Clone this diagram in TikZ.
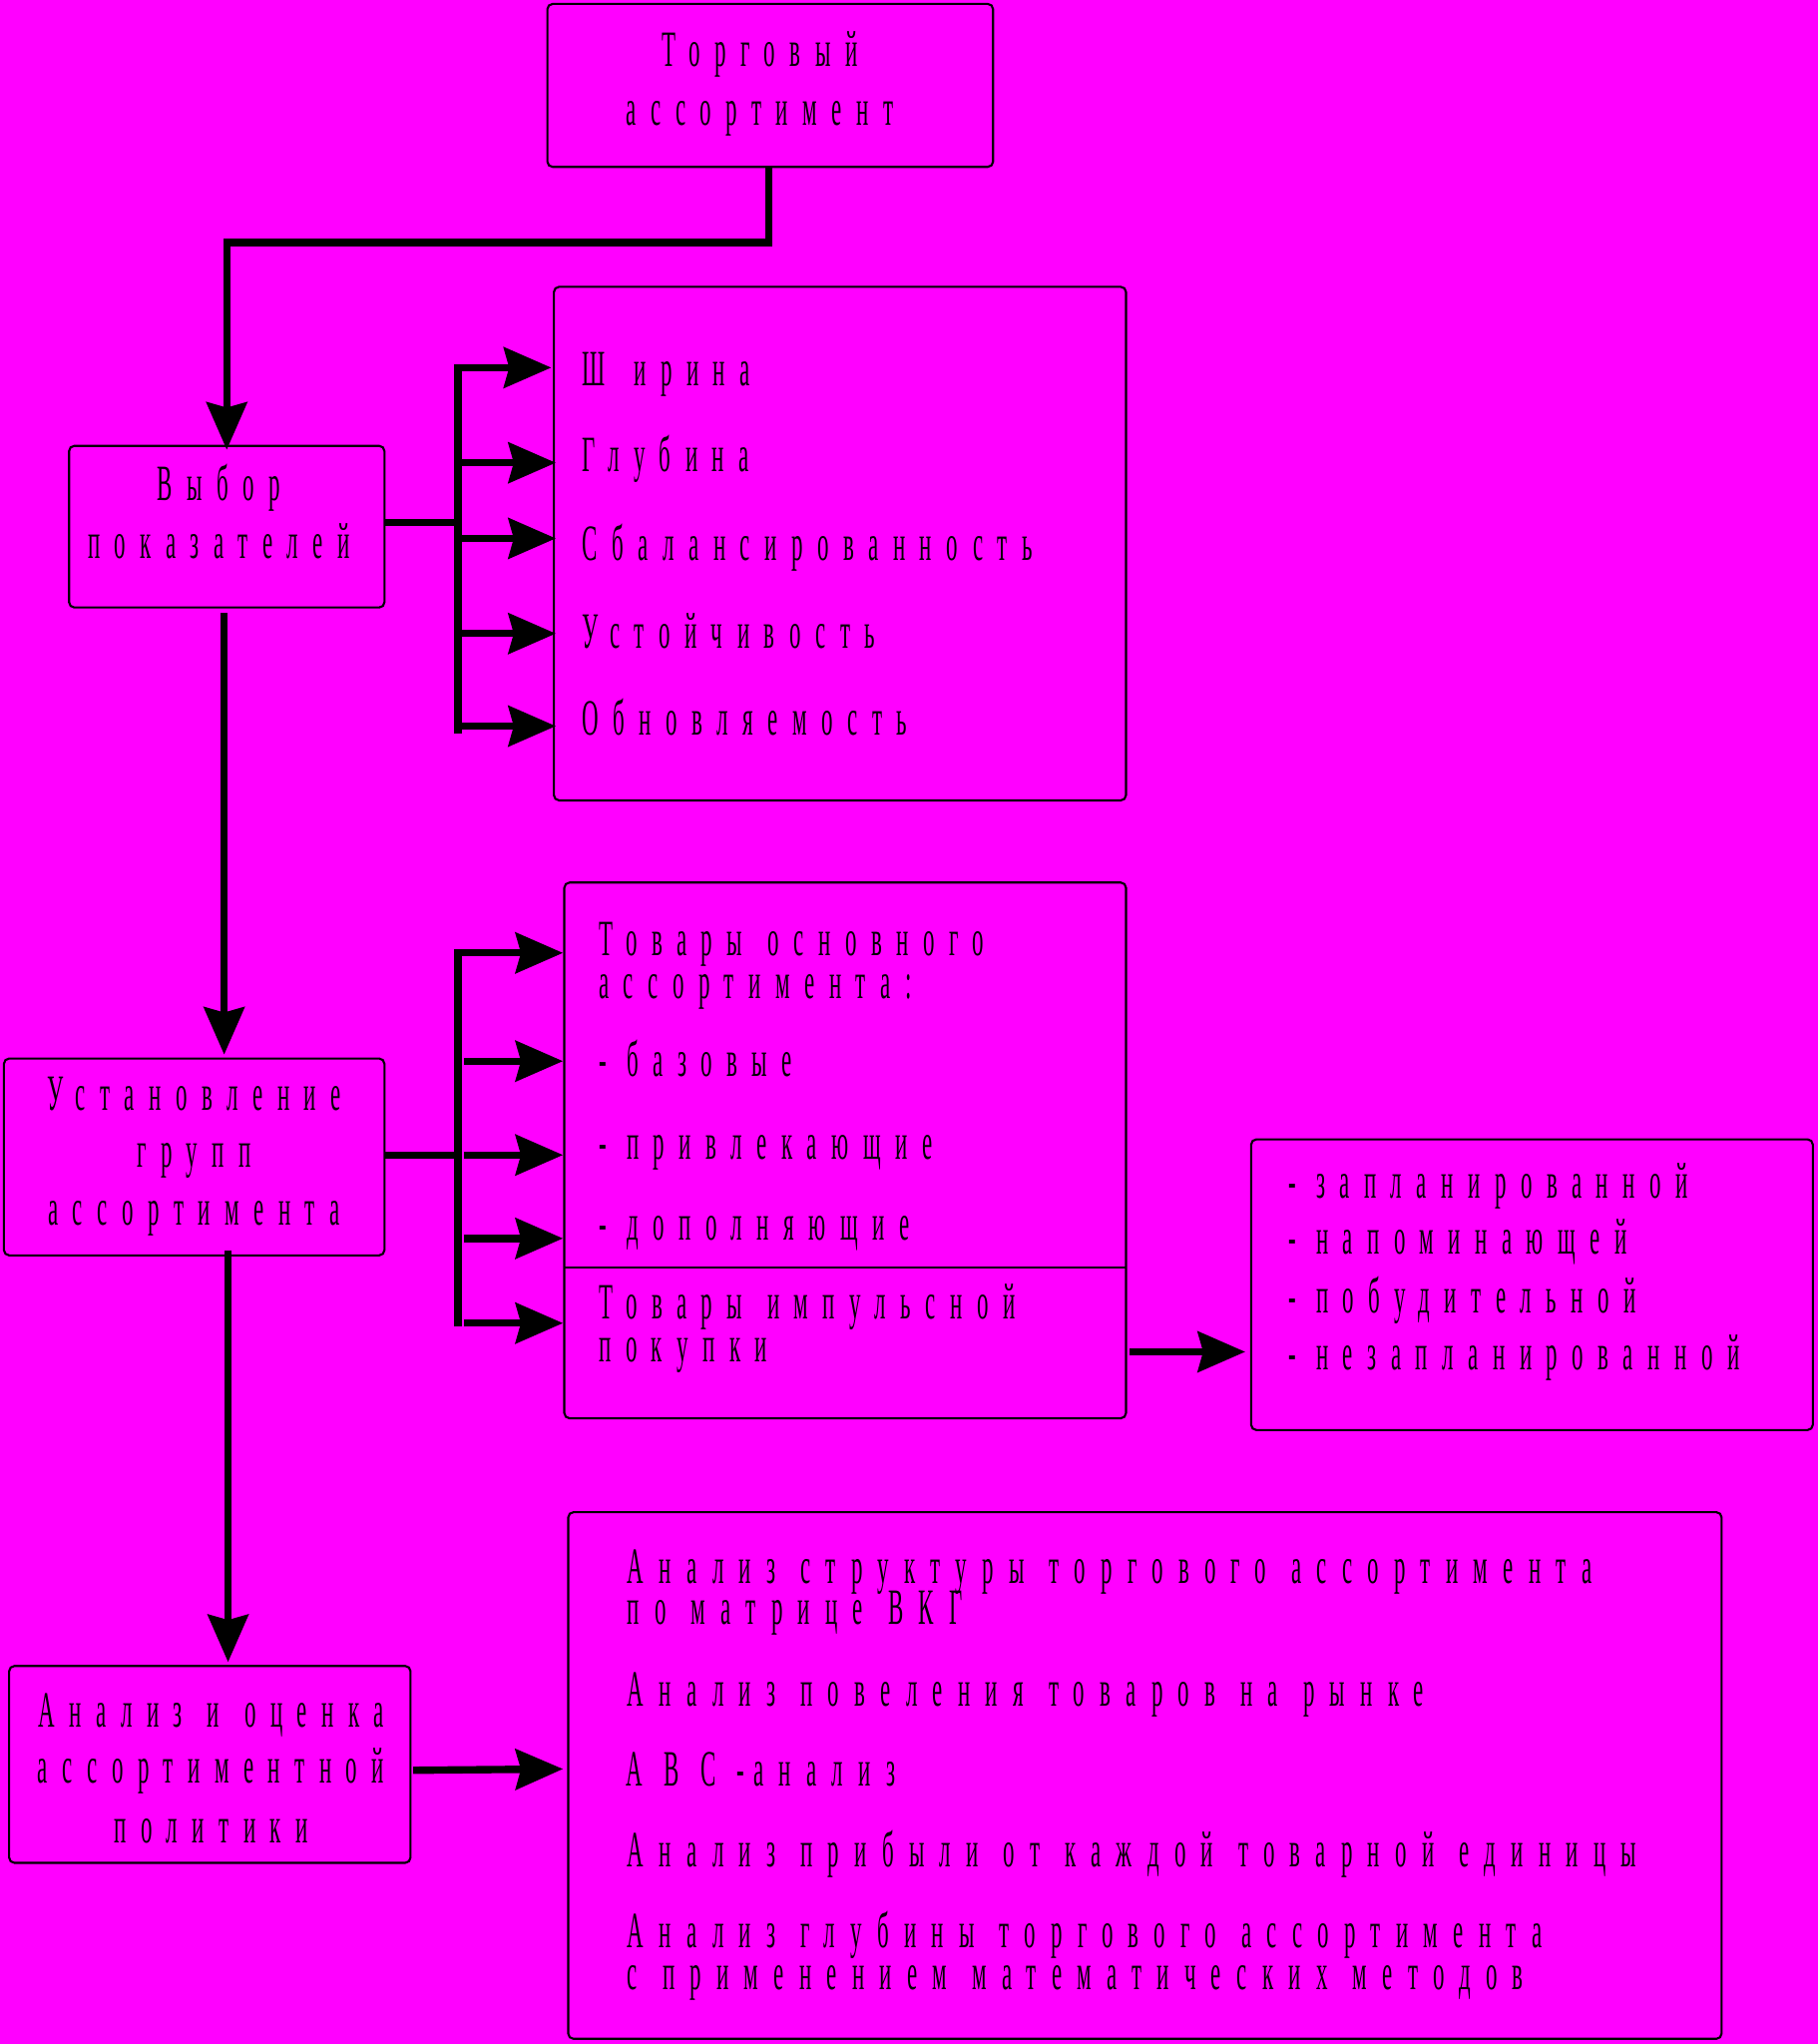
\documentclass[tikz,border=0pt]{standalone}
\usepackage{fontspec}
\usetikzlibrary{arrows.meta,fit}
\newfontfamily\nf[FakeStretch=0.45,LetterSpace=28.5]{Liberation Serif}
\newfontfamily\nfw[FakeStretch=0.45,LetterSpace=30]{Liberation Serif}
\newcommand\myws{\spaceskip 0.25cm\relax}
\newcommand\mysz{\fontsize{14.5pt}{17pt}\selectfont}
\begin{document}
\begin{tikzpicture}[x=0.013061cm,y=-0.013061cm,
  box/.style={draw=black,line width=0.6pt,rounded corners=1.5pt,inner sep=0pt},
  conn/.style={line width=2.1pt,line cap=rect},
  arr/.style={line width=2.1pt,-{Stealth[length=13.5pt,width=11.5pt,inset=1.5pt]}},
  txt/.style={font=\nf\mysz\myws,inner sep=0pt,anchor=base west},
  wtxt/.style={font=\nfw\mysz\myws,inner sep=0pt,anchor=base west},
  dtxt/.style={font=\nf\mysz,inner sep=0pt,anchor=base west},
  ctxt/.style={font=\nf\mysz\myws,inner sep=0pt,anchor=base}]
\fill[fill={rgb,255:red,255;green,0;blue,255}] (0,0) rectangle (1395,1568);
\useasboundingbox (0,0) rectangle (1395,1568);
% corner coordinates
\coordinate (b1a) at (420,3);   \coordinate (b1b) at (762,128);
\coordinate (b2a) at (53,342);  \coordinate (b2b) at (295,466);
\coordinate (b3a) at (425,220); \coordinate (b3b) at (864,614);
\coordinate (b4a) at (3,812);   \coordinate (b4b) at (295,963);
\coordinate (b5a) at (433,677); \coordinate (b5b) at (864,1088);
\coordinate (b6a) at (960,874); \coordinate (b6b) at (1391,1097);
\coordinate (b7a) at (7,1278);  \coordinate (b7b) at (315,1429);
\coordinate (b8a) at (436,1160);\coordinate (b8b) at (1321,1564);
\node[box,fit=(b1a)(b1b)] (b1) {};
\node[box,fit=(b2a)(b2b)] (b2) {};
\node[box,fit=(b3a)(b3b)] (b3) {};
\node[box,fit=(b4a)(b4b)] (b4) {};
\node[box,fit=(b5a)(b5b)] (b5) {};
\node[box,fit=(b6a)(b6b)] (b6) {};
\node[box,fit=(b7a)(b7b)] (b7) {};
\node[box,fit=(b8a)(b8b)] (b8) {};
\coordinate (d1) at (433,972); \coordinate (d2) at (864,972);
\draw[line width=0.6pt] (d1) -- (d2);
% texts
\node[ctxt] (t11) at (583,51) {Торговый};
\node[ctxt] (t12) at (583,96) {ассортимент};
\node[ctxt] (t21) at (168,384) {Выбор};
\node[ctxt] (t22) at (168,428) {показателей};
\node[txt] (t31) at (446,296) {\makebox[0.52cm][l]{Ш}ирина};
\node[txt] (t32) at (446,362) {Глубина};
\node[txt] (t33) at (446,430) {Сбалансированность};
\node[txt] (t34) at (446,497) {Устойчивость};
\node[txt] (t35) at (446,564) {Обновляемость};
\node[ctxt] (t41) at (149,852) {Установление};
\node[ctxt] (t42) at (149,895) {групп};
\node[ctxt] (t43) at (149,940) {ассортимента};
\node[txt] (t51) at (459,733) {Товары основного};
\node[txt] (t52) at (459,766) {ассортимента:};
\node[dtxt] (t53) at (459,826) {- базовые};
\node[dtxt] (t54) at (459,889) {- привлекающие};
\node[dtxt] (t55) at (459,951) {- дополняющие};
\node[txt] (t56) at (459,1012) {Товары импульсной};
\node[txt] (t57) at (459,1045) {покупки};
\node[dtxt] (t61) at (988,919) {- запланированной};
\node[dtxt] (t62) at (988,962) {- напоминающей};
\node[dtxt] (t63) at (988,1007) {- побудительной};
\node[dtxt] (t64) at (988,1051) {- незапланированной};
\node[ctxt] (t71) at (162,1325) {Анализ и оценка};
\node[ctxt] (t72) at (162,1368) {ассортиментной};
\node[ctxt] (t73) at (162,1414) {политики};
\node[wtxt] (t81) at (481,1215) {Анализ структуры торгового ассортимента};
\node[wtxt] (t82) at (481,1246) {по матрице ВКГ};
\node[wtxt] (t83) at (481,1309) {Анализ повеления товаров на рынке};
\node[wtxt] (t84) at (480,1370) {\makebox[0.379cm][l]{А}\makebox[0.366cm][l]{В}\makebox[0.36cm][l]{С}\makebox[0.17cm][l]{-}анализ};
\node[wtxt] (t85) at (481,1432) {Анализ прибыли от каждой товарной единицы};
\node[wtxt] (t86) at (481,1494) {Анализ глубины торгового ассортимента};
\node[wtxt] (t87) at (481,1526) {с применением математических методов};
% connector box1 -> box2
\coordinate (c1) at (590,128);
\coordinate (c2) at (174,345);
\draw[arr] (c1) -- ++(0,58) -| (c2);
% bracket 1
\coordinate (k1) at (351.5,282); \coordinate (k1b) at (351.5,560);
\coordinate (k1m) at (351.5,401); \coordinate (o2) at (295,401);
\draw[conn,line cap=butt] (o2) -- (k1m);
\draw[conn] (k1) -- (k1b);
\coordinate (e31) at (423,282);
\coordinate (s32) at (354,355) ; \coordinate (e32) at (426.5,355);
\coordinate (s33) at (354,413) ; \coordinate (e33) at (426.5,413);
\coordinate (s34) at (354,486) ; \coordinate (e34) at (426.5,486);
\coordinate (s35) at (354,557) ; \coordinate (e35) at (426.5,557);
\draw[arr] (k1) -- (e31);
\draw[arr] (s32) -- (e32);
\draw[arr] (s33) -- (e33);
\draw[arr] (s34) -- (e34);
\draw[arr] (s35) -- (e35);
% box2 -> box4
\coordinate (v1) at (172,470); \coordinate (v2) at (172,809);
\draw[arr] (v1) -- (v2);
% bracket 2
\coordinate (k2) at (351.5,731); \coordinate (k2b) at (351.5,1015);
\coordinate (k2m) at (351.5,886); \coordinate (o4) at (295,886);
\draw[conn,line cap=butt] (o4) -- (k2m);
\draw[conn] (k2) -- (k2b);
\coordinate (e51) at (432,731);
\coordinate (s52) at (356,814) ; \coordinate (e52) at (432,814);
\coordinate (s53) at (356,886) ; \coordinate (e53) at (432,886);
\coordinate (s54) at (356,950) ; \coordinate (e54) at (432,950);
\coordinate (s55) at (356,1015) ; \coordinate (e55) at (432,1015);
\draw[arr] (k2) -- (e51);
\draw[arr] (s52) -- (e52);
\draw[arr] (s53) -- (e53);
\draw[arr] (s54) -- (e54);
\draw[arr] (s55) -- (e55);
% box5 -> box6
\coordinate (h1) at (867,1037); \coordinate (h2) at (955.5,1037);
\draw[arr] (h1) -- (h2);
% box4 -> box7
\coordinate (w1) at (175,959); \coordinate (w2) at (175,1275);
\draw[arr] (w1) -- (w2);
% box7 -> box8
\coordinate (g1) at (317,1358); \coordinate (g2) at (432,1357);
\draw[arr] (g1) -- (g2);
\end{tikzpicture}
\end{document}
